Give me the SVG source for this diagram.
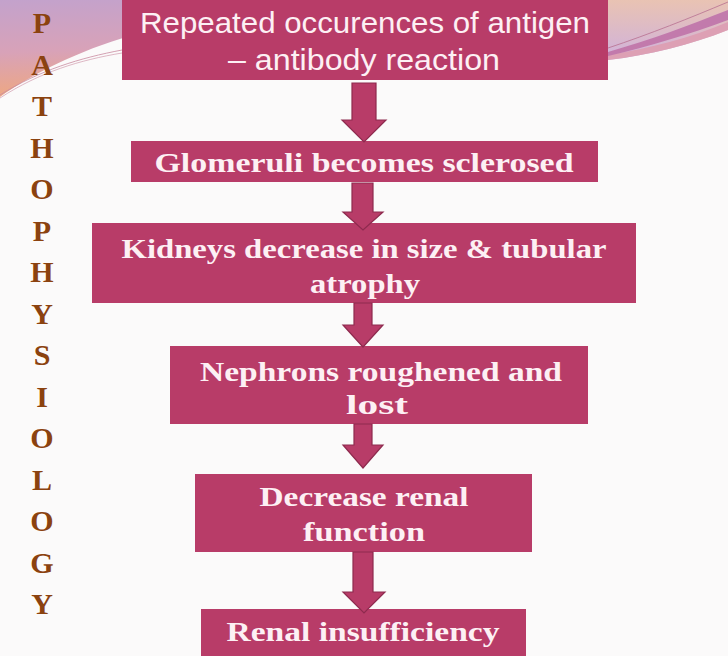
<svg xmlns="http://www.w3.org/2000/svg" width="728" height="656" viewBox="0 0 728 656">
<defs>
<linearGradient id="gl" x1="0" y1="0" x2="0.3" y2="1">
<stop offset="0" stop-color="#c3a2cc"/>
<stop offset="0.5" stop-color="#d8a2b8"/>
<stop offset="1" stop-color="#f2a878"/>
</linearGradient>
<linearGradient id="gr" x1="0" y1="0" x2="0" y2="1">
<stop offset="0" stop-color="#e9c3b3"/>
<stop offset="1" stop-color="#cfb1dc"/>
</linearGradient>
<style>
.box{fill:#b83c68;}
.t1{font-family:"Liberation Sans","Open Sans",sans-serif;font-size:29px;fill:#fdf0f4;text-anchor:middle;}
.t{font-family:"Liberation Serif","DejaVu Serif",serif;font-weight:bold;font-size:28px;fill:#fdf0f4;text-anchor:middle;}
.arr{fill:#b83c68;stroke:#8e2a4e;stroke-width:1.2;}
.side{font-family:"Liberation Serif","DejaVu Serif",serif;font-weight:bold;font-size:30px;fill:#8b420f;text-anchor:middle;}
</style>
</defs>
<rect width="728" height="656" fill="#fbfafa"/>
<path d="M0 0 H728 V28 C640 50 560 60 480 70 L130 36 C80 50 30 75 0 97 Z" fill="url(#gl)"/>
<path d="M0 95 C40 70 80 58 122 50" fill="none" stroke="#c98aa0" stroke-width="0.8"/>
<path d="M0 98 C40 72 80 60 122 53" fill="none" stroke="#c98aa0" stroke-width="0.6"/>
<path d="M608 0 H728 V30 C690 45 650 55 608 60 Z" fill="url(#gr)"/>
<path d="M608 60 C650 55 690 45 728 30 V22 C690 38 650 48 608 55 Z" fill="#dda0b4"/>
<path d="M608 52 C650 40 690 25 728 10 V20 C690 34 650 46 608 56 Z" fill="#c27aac"/>
<path d="M608 48 C650 34 690 18 728 2" fill="none" stroke="#b87090" stroke-width="0.8"/>

<g id="side-title">
<text class="side" x="42" y="33">P</text>
<text class="side" x="42" y="75">A</text>
<text class="side" x="42" y="116">T</text>
<text class="side" x="42" y="158">H</text>
<text class="side" x="42" y="199">O</text>
<text class="side" x="42" y="241">P</text>
<text class="side" x="42" y="282">H</text>
<text class="side" x="42" y="324">Y</text>
<text class="side" x="42" y="365">S</text>
<text class="side" x="42" y="407">I</text>
<text class="side" x="42" y="448">O</text>
<text class="side" x="42" y="490">L</text>
<text class="side" x="42" y="531">O</text>
<text class="side" x="42" y="573">G</text>
<text class="side" x="42" y="614">Y</text>
</g>

<g id="n1">
<rect class="box" x="122" y="0" width="486" height="80"/>
<text class="t1" x="365" y="33" textLength="450" lengthAdjust="spacingAndGlyphs">Repeated occurences of antigen</text>
<text class="t1" x="364" y="70" textLength="272" lengthAdjust="spacingAndGlyphs">– antibody reaction</text>
</g>
<g id="n2">
<rect class="box" x="131" y="141" width="467" height="41"/>
<text class="t" x="364" y="172" textLength="419" lengthAdjust="spacingAndGlyphs">Glomeruli becomes sclerosed</text>
</g>
<g id="n3">
<rect class="box" x="92" y="223" width="544" height="80"/>
<text class="t" x="364" y="258" textLength="485" lengthAdjust="spacingAndGlyphs">Kidneys decrease in size &amp; tubular</text>
<text class="t" x="365" y="293" textLength="110" lengthAdjust="spacingAndGlyphs">atrophy</text>
</g>
<g id="n4">
<rect class="box" x="170" y="346" width="418" height="78"/>
<text class="t" x="381" y="381" textLength="362" lengthAdjust="spacingAndGlyphs">Nephrons roughened and</text>
<text class="t" x="377" y="414" textLength="62" lengthAdjust="spacingAndGlyphs">lost</text>
</g>
<g id="n5">
<rect class="box" x="195" y="474" width="337" height="78"/>
<text class="t" x="364" y="506" textLength="209" lengthAdjust="spacingAndGlyphs">Decrease renal</text>
<text class="t" x="364" y="541" textLength="122" lengthAdjust="spacingAndGlyphs">function</text>
</g>
<g id="n6">
<rect class="box" x="201" y="609" width="325" height="47"/>
<text class="t" x="363" y="641" textLength="273" lengthAdjust="spacingAndGlyphs">Renal insufficiency</text>
</g>

<g id="connectors">
<path class="arr" d="M352 83 H376 V120 H386 L364 142 L342 120 H352 Z"/>
<path class="arr" d="M352 183 H373 V212 H383 L363 230 L343 212 H352 Z"/>
<path class="arr" d="M354 303 H372 V325 H383 L363 347 L343 325 H354 Z"/>
<path class="arr" d="M354 424 H372 V445 H383 L363 468 L343 445 H354 Z"/>
<path class="arr" d="M353 552 H373 V592 H385 L364 613 L343 592 H353 Z"/>
</g>
</svg>
